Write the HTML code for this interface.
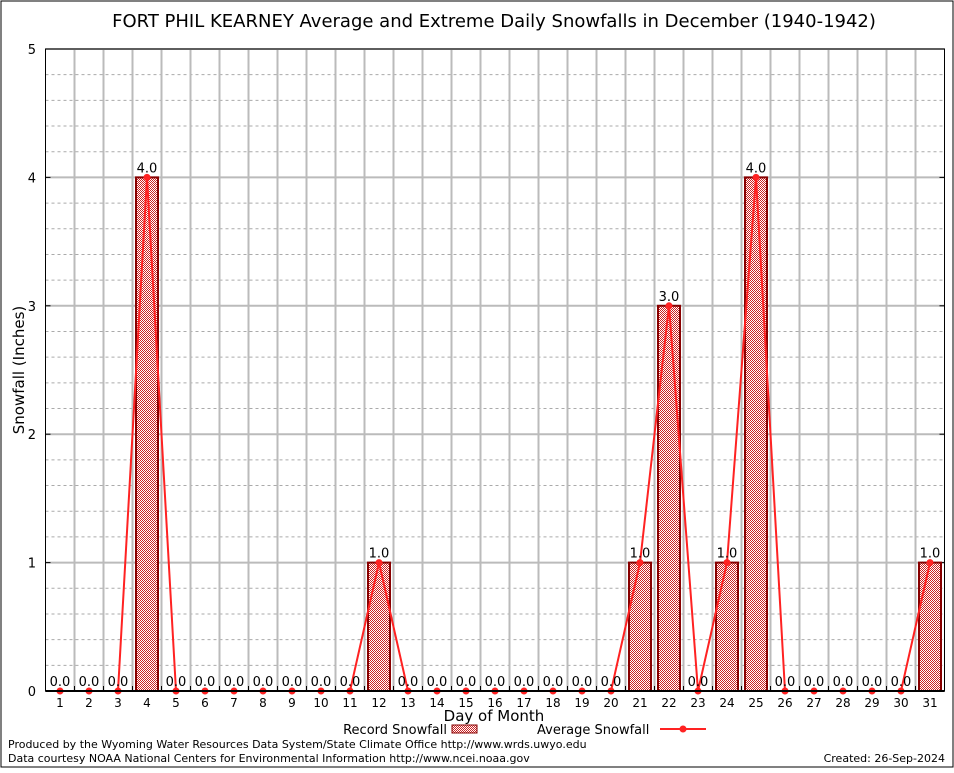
<!DOCTYPE html>
<html><head><meta charset="utf-8"><style>
body{margin:0;background:#fff;}
svg text{font-family:"DejaVu Sans","Liberation Sans",sans-serif;}
</style></head><body>
<svg id="chart" width="954" height="768" xmlns="http://www.w3.org/2000/svg">
<defs>
<pattern id="hatch" width="2" height="2" patternUnits="userSpaceOnUse">
<rect width="2" height="2" fill="#fff"/>
<rect width="1" height="1" fill="#c22"/><rect x="1" y="1" width="1" height="1" fill="#c22"/>
</pattern>
</defs>
<rect x="1" y="1" width="952" height="766" fill="none" stroke="#000" stroke-width="1"/>
<text x="494" y="27" font-size="18" text-anchor="middle">FORT PHIL KEARNEY Average and Extreme Daily Snowfalls in December (1940-1942)</text>
<g id="grid"></g>
<g id="bars"></g>
<g id="line"></g>
<g id="labels"></g>
<text x="24" y="370" font-size="15" text-anchor="middle" transform="rotate(-90 24 370)">Snowfall (Inches)</text>
<text x="494" y="721" font-size="15" text-anchor="middle">Day of Month</text>
<g>
<text x="447" y="734" font-size="13" text-anchor="end">Record Snowfall</text>
<rect x="452" y="725" width="25" height="8" fill="url(#hatch)" stroke="#800" stroke-width="1"/>
</g>
<g>
<text x="537" y="734" font-size="13">Average Snowfall</text>
<line x1="660" y1="729" x2="706" y2="729" stroke="#f22" stroke-width="2"/>
<circle cx="683" cy="729" r="3.5" fill="#f22"/>
</g>
<text x="8" y="748" font-size="11">Produced by the Wyoming Water Resources Data System/State Climate Office http://www.wrds.uwyo.edu</text>
<text x="8" y="762" font-size="11">Data courtesy NOAA National Centers for Environmental Information http://www.ncei.noaa.gov</text>
<text x="945" y="762" font-size="11" text-anchor="end">Created:  26-Sep-2024</text>
</svg>
<script>
const days=[1,2,3,4,5,6,7,8,9,10,11,12,13,14,15,16,17,18,19,20,21,22,23,24,25,26,27,28,29,30,31];
const recordSnow=[0,0,0,4,0,0,0,0,0,0,0,1,0,0,0,0,0,0,0,0,1,3,0,1,4,0,0,0,0,0,1];
const avgSnow=[0,0,0,4,0,0,0,0,0,0,0,1,0,0,0,0,0,0,0,0,1,3,0,1,4,0,0,0,0,0,1];
const yTicks=[0,1,2,3,4,5];
const NS="http://www.w3.org/2000/svg";
const L=45.5,R=944.5,T=49,B=691;
const xs=d=>60+(d-1)*29;
const ys=v=>B-(v/5)*(B-T);
function mk(tag,at,parent){const e=document.createElementNS(NS,tag);for(const k in at)e.setAttribute(k,at[k]);parent.appendChild(e);return e;}
const grid=document.getElementById('grid');
mk('rect',{x:L,y:T,width:R-L,height:B-T,fill:'#fff'},grid);
for(let i=1;i<25;i++){if(i%5===0)continue;const y=ys(i/5);
const g=mk('line',{x1:L,x2:R,y1:y,y2:y,stroke:'#aaa','stroke-dasharray':'3,3','stroke-width':1},grid);

}
yTicks.forEach(t=>{const y=ys(t);
const g=mk('line',{x1:L,x2:R,y1:y,y2:y,stroke:'#bbb','stroke-width':2},grid);


const tx=mk('text',{x:36,y:y+5,'font-size':13,'text-anchor':'end','font-family':'Liberation Serif,serif'},grid);tx.textContent=t;


mk('line',{x1:L,x2:L+5,y1:y,y2:y,stroke:'#000'},grid);mk('line',{x1:R-5,x2:R,y1:y,y2:y,stroke:'#000'},grid);});
days.forEach((d,i)=>{const x=xs(d)+14.5;
if(i<days.length-1){const v=mk('line',{x1:x,x2:x,y1:T,y2:B,stroke:'#bbb','stroke-width':2},grid);

}
mk('line',{x1:x,x2:x,y1:B,y2:B-5,stroke:'#000'},grid);
const tx=mk('text',{x:xs(d),y:B+16,'font-size':12,'text-anchor':'middle','font-family':'Liberation Serif,serif'},grid);tx.textContent=d;

});
const bars=document.getElementById('bars');
recordSnow.forEach((v,i)=>{if(v<=0)return;const x=xs(days[i]);
const r=mk('rect',{x:x-11,y:ys(v),width:22,height:B-ys(v),fill:'url(#hatch)',stroke:'#800','stroke-width':2},bars);

});
const ln=document.getElementById('line');
const p=mk('polyline',{points:avgSnow.map((v,i)=>xs(days[i])+','+ys(v)).join(' '),fill:'none',stroke:'#f22','stroke-width':2},ln);


avgSnow.forEach((v,i)=>{const c=mk('circle',{cx:xs(days[i]),cy:ys(v),r:3.5,fill:'#f22'},ln);

});
const lab=document.getElementById('labels');
recordSnow.forEach((v,i)=>{const t=mk('text',{x:xs(days[i]),y:ys(v)-5,'font-size':13,'text-anchor':'middle'},lab);t.textContent=v.toFixed(1);

});
mk('rect',{x:L,y:T,width:R-L,height:B-T,fill:'none',stroke:'#000','stroke-width':1},lab);
mk('line',{x1:L,x2:R,y1:B,y2:B,stroke:'#000','stroke-width':2},lab);
</script>
</body></html>
